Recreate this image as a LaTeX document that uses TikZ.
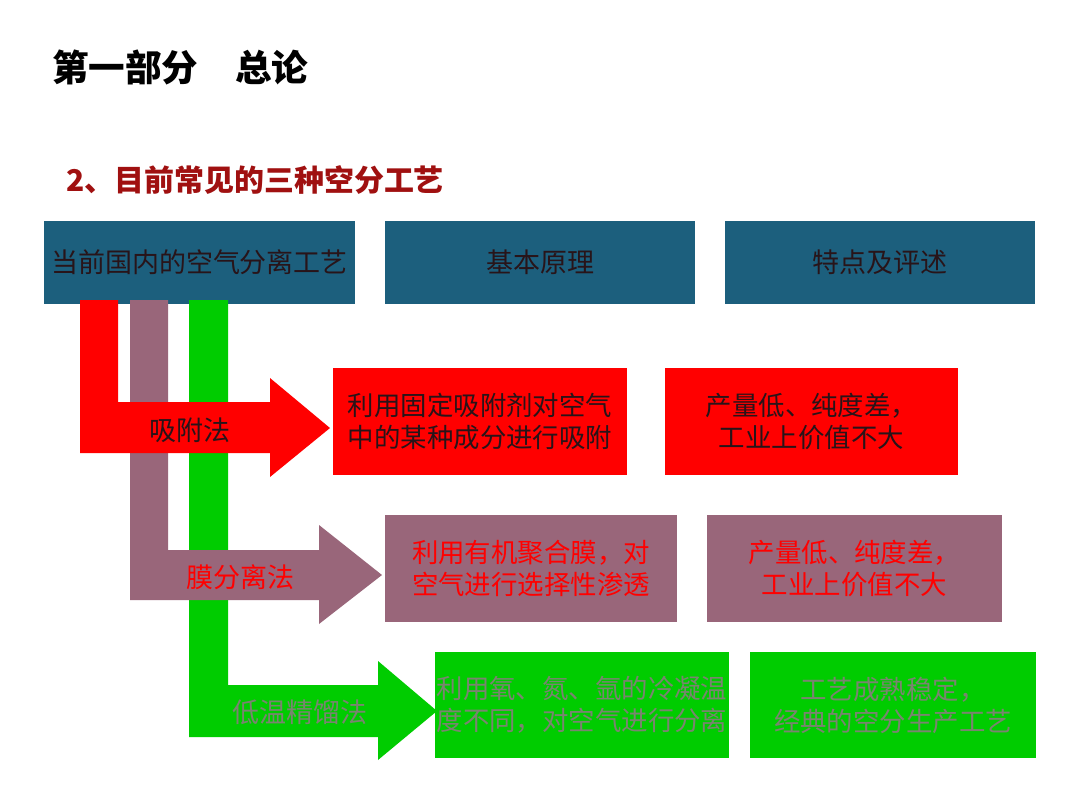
\documentclass[tikz,border=0pt]{standalone}
\usepackage{fontspec}
\newfontfamily\cjk{Noto Sans CJK SC}
\usepackage{xcolor}
\definecolor{air-teal}{RGB}{28,95,125}
\definecolor{air-red}{RGB}{255,0,0}
\definecolor{air-mauve}{RGB}{153,102,122}
\definecolor{air-green}{RGB}{0,204,0}
\definecolor{air-title}{RGB}{160,16,16}
\definecolor{air-dark}{RGB}{40,20,25}
\definecolor{air-gray}{RGB}{122,132,112}
\usepackage{tikz}
\usetikzlibrary{positioning, calc}

\begin{document}
\begin{tikzpicture}[
    x=0.025cm, y=-0.025cm,
    hdbox/.style={rectangle, fill=air-teal, minimum width=7.75cm, minimum height=2.075cm, inner sep=1pt, align=center, text=air-dark, font=\cjk\fontsize{19.2}{23}\selectfont},
    infobox/.style={rectangle, minimum width=7.35cm, minimum height=2.675cm, inner sep=1pt, align=center, font=\cjk\fontsize{18.8}{22.8}\selectfont},
    redbox/.style={infobox, fill=air-red, text=air-dark},
    mauvebox/.style={infobox, fill=air-mauve, text=air-red},
    greenbox/.style={infobox, fill=air-green, text=air-gray},
    tag/.style={inner sep=0pt, font=\cjk\fontsize{19.2}{23}\selectfont}
]
    \useasboundingbox[fill=white] (0,0) rectangle (1080,810);

    % Titel
    \node[anchor=west, inner sep=0pt, font=\cjk\bfseries\fontsize{26}{30}\selectfont] (title) at (52,67) {第一部分　总论};
    \node[anchor=west, inner sep=0pt, text=air-title, font=\cjk\bfseries\fontsize{21.3}{25}\selectfont] (subtitle) at (66,180) {2、目前常见的三种空分工艺};

    % Kopfzeile
    \node[hdbox] (hdA) at (199.5,262.5) {当前国内的空气分离工艺};
    \node[hdbox] (hdB) at (540,262.5) {基本原理};
    \node[hdbox] (hdC) at (880,262.5) {特点及评述};

    % Pfeile
    \fill[air-green] (189,300) -- (228,300) -- (228,685) -- (378,685) -- (378,661) -- (437,711) -- (378,760) -- (378,737) -- (189,737) -- cycle;
    \fill[air-mauve] (130,300) -- (168,300) -- (168,550) -- (319,550) -- (319,525) -- (382,575) -- (319,624) -- (319,600) -- (130,600) -- cycle;
    \fill[air-red] (80,300) -- (118,300) -- (118,402) -- (270,402) -- (270,378) -- (330,428) -- (270,477) -- (270,453) -- (80,453) -- cycle;

    \node[tag, text=air-dark] (lbA) at (190,430) {吸附法};
    \node[tag, text=air-red] (lbB) at (240,577) {膜分离法};
    \node[tag, text=air-gray] (lbC) at (300,712) {低温精馏法};

    % Kaesten
    \node[redbox] (prA) at (480,421.5) {利用固定吸附剂对空气\\中的某种成分进行吸附};
    \node[redbox, minimum width=7.325cm] (evA) at (811.5,421.5) {产量低、纯度差，\\工业上价值不大};
    \node[mauvebox, minimum width=7.3cm] (prB) at (531,568.5) {利用有机聚合膜，对\\空气进行选择性渗透};
    \node[mauvebox, minimum width=7.375cm] (evB) at (854.5,568.5) {产量低、纯度差，\\工业上价值不大};
    \node[greenbox, minimum height=2.65cm] (prC) at (582,705) {利用氧、氮、氩的冷凝温\\度不同，对空气进行分离};
    \node[greenbox, minimum width=7.15cm, minimum height=2.65cm] (evC) at (893,705) {工艺成熟稳定，\\经典的空分生产工艺};
\end{tikzpicture}
\end{document}
